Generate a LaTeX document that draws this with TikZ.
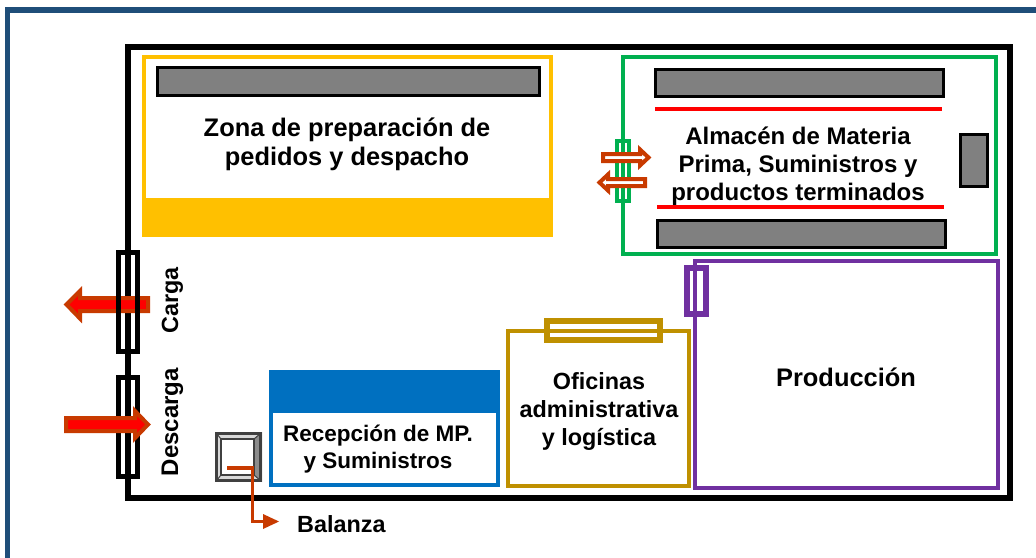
\documentclass[tikz,border=0pt]{standalone}
\usepackage{fontspec}
\setmainfont{Liberation Sans}
\definecolor{framec}{HTML}{1F4E79}
\definecolor{goldy}{HTML}{FFC000}
\definecolor{greeny}{HTML}{00B050}
\definecolor{purp}{HTML}{7030A0}
\definecolor{bluey}{HTML}{0070C0}
\definecolor{ochre}{HTML}{BF9000}
\definecolor{rust}{HTML}{C83A00}
\tikzset{
 rack/.style={draw=black,line width=3pt,fill=black!50},
 redline/.style={draw=red,line width=3.5pt},
 lblbig/.style={font=\bfseries\fontsize{25.4}{29}\selectfont,align=center,text=black,inner sep=0pt},
 lblalm/.style={font=\bfseries\fontsize{24}{28}\selectfont,align=center,text=black,inner sep=0pt},
 lblofi/.style={font=\bfseries\fontsize{23.4}{28}\selectfont,align=center,text=black,inner sep=0pt},
 lblrec/.style={font=\bfseries\fontsize{22.5}{27.5}\selectfont,align=center,text=black,inner sep=0pt},
 bigarrow/.style={draw=rust,line width=4pt,fill=red,miter limit=10},
 thinarrow/.style={draw=rust,line width=4pt,fill=white,miter limit=10},
}
\begin{document}
\begin{tikzpicture}[x=1pt,y=-1pt]
\clip (0,0) rectangle (1036,557);
\fill[white] (0,0) rectangle (1036,557);
% outer frame
\draw[framec,line width=5.5pt] (7.5,10) rectangle (1060,580);
% building
\draw[black,line width=6pt] (128,47) rectangle (1010,498);
% yellow zone
\fill[goldy] (142,199) rectangle (553,237);
\draw[goldy,line width=4pt] (144,57) rectangle (551,200);
\draw[rack] (157.5,67.5) rectangle (539,95.5);
\node[lblbig] (zona) at (347,144.5) {Zona de preparación de\\pedidos y despacho};
% green zone
\draw[greeny,line width=4pt] (623,57) rectangle (996,254);
\draw[rack] (655.5,69.5) rectangle (943,96.5);
\draw[rack] (657.5,220) rectangle (945,247);
\draw[rack] (960.5,134.5) rectangle (987.5,186.5);
\draw[redline] (655,109) -- (942,109);
\draw[redline] (657,207) -- (944,207);
\node[lblalm] (alm) at (798,166.5) {Almacén de Materia\\Prima, Suministros y\\productos terminados};
% green door and arrows
\draw[greeny,line width=4pt] (617,141) rectangle (629,201);
\draw[thinarrow] (603,154) -- (640,154) -- (640,149.5) -- (648.5,157.5) -- (640,165.5) -- (640,161) -- (603,161) -- cycle;
\draw[thinarrow] (645,179) -- (608,179) -- (608,174.5) -- (599.5,182.5) -- (608,190.5) -- (608,186) -- (645,186) -- cycle;
% purple zone
\draw[purp,line width=4pt] (695,261) rectangle (998,488);
\draw[purp,line width=6pt] (687,268) rectangle (706,314);
\node[lblbig] (prod) at (846,377) {Producción};
% offices
\draw[ochre,line width=4pt] (508,331) rectangle (689,486);
\draw[ochre,line width=6pt] (547,321) rectangle (660,340);
\node[lblofi] (ofi) at (599,411) {Oficinas\\administrativa\\y logística};
% reception
\fill[bluey] (269,370) rectangle (500,413);
\draw[bluey,line width=4pt] (271,372) rectangle (498,485);
\node[lblrec] (rec) at (378,449) {Recepción de MP.\\y Suministros};
% dock doors
\draw[bigarrow] (148,298) -- (80,298) -- (80,291) -- (66.5,304.5) -- (80,318.5) -- (80,311) -- (148,311) -- cycle;
\draw[black,line width=5pt] (118.5,252.5) rectangle (137.5,351.5);
\draw[black,line width=5pt] (118.5,377.5) rectangle (137.5,476.5);
\draw[bigarrow] (66,418) -- (135,418) -- (135,411) -- (148,424.5) -- (135,438) -- (135,431) -- (66,431) -- cycle;
\node[lblofi,rotate=90] (carga) at (172.5,300.5) {Carga};
\node[lblalm,rotate=90] (desc) at (172.5,422) {Descarga};
% scale
\fill[black!15] (215,432) rectangle (262,482);
\fill[black!45] (262,432) -- (262,482) -- (255,476) -- (255,438) -- cycle;
\fill[white] (220,438) rectangle (255,476);
\draw[black!75,line width=2.5pt] (216.5,433.5) rectangle (260.5,480.5);
\draw[black!75,line width=2.5pt] (221,439) rectangle (254,475);
\draw[black!75,line width=1pt] (216.5,433.5) -- (221,439) (260.5,433.5) -- (254,439) (216.5,480.5) -- (221,475) (260.5,480.5) -- (254,475);
\coordinate (scalept) at (227,468);
\coordinate (scalebend) at (252.5,468);
\coordinate (scaleend) at (264,521.5);
\draw[rust,line width=3.5pt] (scalept) -- (scalebend) |- (scaleend);
\fill[rust] (263,514) -- (279,521.5) -- (263,529) -- cycle;
\node[lblofi,anchor=west] (bal) at (297,524) {Balanza};
\end{tikzpicture}
\end{document}
